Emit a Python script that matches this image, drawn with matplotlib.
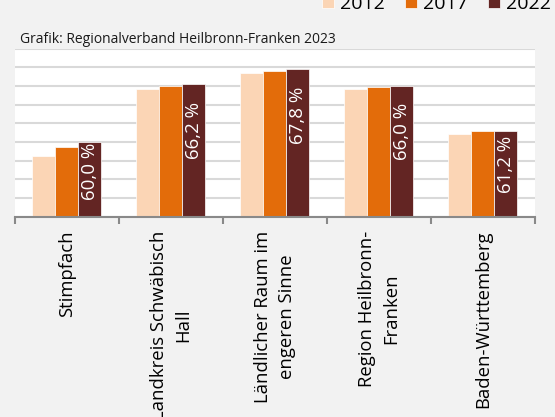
import numpy as np
import matplotlib
matplotlib.use("Agg")
import matplotlib.pyplot as plt

plt.rcParams['font.family'] = ['Open Sans', 'DejaVu Sans']

# Data
categories = ["Stimpfach", "Landkreis Schwäbisch\nHall", "Ländlicher Raum im\nengeren Sinne",
              "Region Heilbronn-\nFranken", "Baden-Württemberg"]
years = ["2012", "2017", "2022"]
y2012 = [58.5, 65.7, 67.4, 65.7, 60.8]
y2017 = [59.5, 66.0, 67.6, 65.9, 61.2]
y2022 = [60.0, 66.2, 67.8, 66.0, 61.2]
labels_2022 = ["60,0 %", "66,2 %", "67,8 %", "66,0 %", "61,2 %"]
label_drop = [0.1, 1.9, 1.95, 1.8, 0.6]  # how far below the bar top each label starts

colors = ["#fbd5b5", "#e36c0a", "#632523"]

fig = plt.figure(figsize=(5.55, 4.17), dpi=100, facecolor="#f2f2f2")
ax = fig.add_axes([14.7 / 555, 1 - 216.5 / 417, (535 - 14.7) / 555, (216.5 - 48.5) / 417])
ax.set_facecolor("white")

x = np.arange(len(categories))
w = 0.221
for i, (vals, c, yr) in enumerate(zip([y2012, y2017, y2022], colors, years)):
    ax.bar(x + (i - 1) * w, vals, width=w, color=c, edgecolor="white", linewidth=0.5,
           label=yr, zorder=2)

for xi, v, lab, d in zip(x, y2022, labels_2022, label_drop):
    ax.text(xi + w, v - d, lab, rotation=90, ha="center", va="top",
            color="white", fontsize=13.5, zorder=3)

ax.set_ylim(52, 70)
ax.set_xlim(-0.5, len(categories) - 0.5)
ax.set_yticks(np.arange(52, 71, 2))
ax.yaxis.grid(True, color="#d9d9d9", linewidth=1.5, zorder=0)
ax.tick_params(axis="y", left=False, labelleft=False)
for s in ["top", "right", "left"]:
    ax.spines[s].set_visible(False)
ax.spines["bottom"].set_color("#898989")
ax.spines["bottom"].set_linewidth(1.5)

ax.set_xticks(x)
ax.set_xticklabels(categories, rotation=90, ha="center", va="top", fontsize=13.3)
for t in ax.get_xticklabels():
    t.set_linespacing(1.45)
ax.tick_params(axis="x", which="major", length=0, pad=10.2)
ax.set_xticks(np.arange(-0.5, len(categories)), minor=True)
ax.tick_params(axis="x", which="minor", length=5, width=1.5, color="#898989")

fig.text(20 / 555, 1 - 43.3 / 417, "Grafik: Regionalverband Heilbronn-Franken 2023",
         fontsize=10, color="#1a1a1a", va="baseline", ha="left")

fig.legend(loc="center right", bbox_to_anchor=(551 / 555, 1 - 4 / 417), ncol=3,
           frameon=False, fontsize=14, handlelength=0.62, handleheight=0.6,
           handletextpad=0.3, columnspacing=1.05, borderpad=0, borderaxespad=0)

fig.savefig("out.png", dpi=100, facecolor=fig.get_facecolor())
